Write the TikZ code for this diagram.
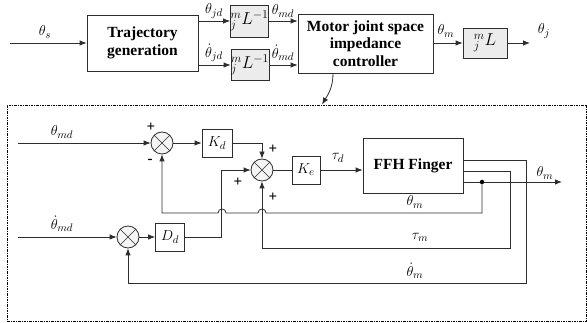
\documentclass[tikz,border=0pt]{standalone}
\usepackage{fontspec}
\setmainfont{Liberation Serif}
\usetikzlibrary{arrows.meta,positioning,calc}
\definecolor{linegray}{RGB}{45,45,45}
\definecolor{boxgray}{RGB}{236,236,236}
\definecolor{sumgray}{RGB}{244,244,244}
\tikzset{
	blk/.style  = {rectangle,draw=linegray,fill=white,line width=0.8pt,
		align=center,inner sep=1pt,
		font=\fontsize{15.5}{17.5}\selectfont\bfseries},
	gblk/.style = {rectangle,draw=linegray,fill=boxgray,line width=0.8pt,
		inner sep=0pt,font=\fontsize{18}{18}\selectfont},
	sblk/.style = {rectangle,draw=linegray,fill=white,line width=0.8pt,
		inner sep=0pt,font=\fontsize{15}{15}\selectfont},
	sumn/.style = {circle,draw=linegray,fill=sumgray,line width=0.8pt,
		minimum size=22pt,inner sep=0pt,
		path picture={\draw[linegray,line width=0.7pt]
			(path picture bounding box.north west)--(path picture bounding box.south east)
			(path picture bounding box.north east)--(path picture bounding box.south west);}},
	frm/.style  = {rectangle,draw=black,line width=0.9pt,inner sep=0pt,
		dash pattern=on 2.5pt off 1pt on 1pt off 1pt},
	arr/.style  = {-{Latex[length=7pt,width=5.5pt]},line width=0.8pt,linegray},
	lin/.style  = {line width=0.8pt,linegray},
	sig/.style  = {inner sep=0pt,font=\fontsize{15}{15}\selectfont},
	sgn/.style  = {inner sep=0pt,font=\fontsize{15}{15}\selectfont\bfseries},
}

\begin{document}
\begin{tikzpicture}[x=1pt,y=-1pt]
	\useasboundingbox (0,0) rectangle (587,323);
	
	%% Chaine du haut
	\coordinate (sin)  at (10,43);
	\coordinate (jout) at (530,43);
	\node (tg)    [blk,minimum width=111pt,minimum height=56pt] at (142.5,43)
	{Trajectory\\generation};
	\node (linv1) [gblk,minimum width=34pt,minimum height=32pt] at (249.5,21)
	{${}^{m}_{j}L^{-1}$};
	\node (linv2) [gblk,minimum width=34pt,minimum height=31pt] at (250,65)
	{${}^{m}_{j}L^{-1}$};
	\node (ctrl)  [blk,minimum width=135pt,minimum height=59pt] at (365.5,43.5)
	{Motor joint space\\impedance\\controller};
	\node (lmap)  [gblk,minimum width=44pt,minimum height=30pt] at (485,43)
	{${}^{m}_{j}L$};
	
	\node (lths)  [sig] at (45,32)   {$\theta_s$};
	\node (lthjd) [sig] at (214,11)  {$\theta_{jd}$};
	\node (ldjd)  [sig] at (214,53)  {$\dot\theta_{jd}$};
	\node (lthmd) [sig] at (283,11)  {$\theta_{md}$};
	\node (ldmd)  [sig] at (283,53)  {$\dot\theta_{md}$};
	\node (lthm)  [sig] at (446,31)  {$\theta_m$};
	\node (lthj)  [sig] at (544,31)  {$\theta_j$};
	
	\draw[arr] (sin) -- (tg);
	\draw[arr] (tg.east |- linv1) -- (linv1);
	\draw[arr] (tg.east |- linv2) -- (linv2);
	\draw[arr] (linv1) -- (linv1 -| ctrl.west);
	\draw[arr] (linv2) -- (linv2 -| ctrl.west);
	\draw[arr] (ctrl.east |- lmap) -- (lmap);
	\draw[arr] (lmap) -- (jout);
	
	%% Cadre de l'impedance
	\node (frame) [frm,minimum width=579pt,minimum height=216pt] at (296.5,213) {};
	\draw[arr] ([xshift=-32.5pt]ctrl.south) .. controls +(0,14) and +(6,-10)
	.. ([xshift=25.5pt]frame.north);
	
	%% Boucle interne
	\coordinate (in1) at (18,143);
	\coordinate (in2) at (18,237);
	\node (s1)  [sumn] at (162,143) {};
	\node (kd)  [sblk,minimum width=30pt,minimum height=28pt] at (217,143) {$K_d$};
	\node (s2)  [sumn] at (262,170) {};
	\node (ke)  [sblk,minimum width=28pt,minimum height=28pt] at (306,170) {$K_e$};
	\node (ffh) [blk,minimum width=100pt,minimum height=55pt] at (413,165.5) {FFH Finger};
	\node (s3)  [sumn] at (128,237) {};
	\node (dd)  [sblk,minimum width=29pt,minimum height=28pt] at (170,237) {$D_d$};
	\node (dot) [circle,fill=black,inner sep=0pt,minimum size=4.5pt] at (482,182) {};
	\coordinate (out) at (562,182);
	
	\node (lmd)  [sig] at (62,132)  {$\theta_{md}$};
	\node (ldm)  [sig] at (62,224)  {$\dot\theta_{md}$};
	\node (ltd)  [sig] at (338,158) {$\tau_d$};
	\node (lfb1) [sig] at (415,202) {$\theta_m$};
	\node (lfb2) [sig] at (420,237) {$\tau_m$};
	\node (lfb3) [sig] at (415,271) {$\dot\theta_m$};
	\node (lout) [sig] at (545,173) {$\theta_m$};
	
	\node (p1) [sgn] at (151,127) {+};
	\node (m1) [sgn] at (150,161) {-};
	\node (p2) [sgn] at (273,149) {+};
	\node (p3) [sgn] at (238,182) {+};
	\node (p4) [sgn] at (273,197) {+};
	
	%% Fleches
	\draw[arr] (in1) -- (s1);
	\draw[arr] (s1) -- (kd);
	\draw[arr] (kd.east) -| (s2.north);
	\draw[lin] (s2) -- (ke);
	\draw[arr] (ke) -- (ffh.west |- ke);
	\draw[arr] (in2) -- (s3);
	\draw[arr] (s3) -- (dd);
	\draw[arr] (dd.east) -| ([xshift=-29pt]s2.west) -- (s2.west);
	
	%% Retours
	\draw[lin] ([yshift=-16.5pt]ffh.east) -- (dot);
	\draw[arr] (dot) -- (out);
	\draw[arr] (dot) -- (482,213) -- (266,213) arc[start angle=0,end angle=180,radius=4pt]
	-- (226,213) arc[start angle=0,end angle=180,radius=4pt]
	-| (s1.south);
	\draw[arr] ([yshift=-5.5pt]ffh.east) -| (510,248) -| (s2.south);
	\draw[arr] ([yshift=5.5pt]ffh.east) -| (526,283) -| (s3.south);
\end{tikzpicture}
\end{document}
